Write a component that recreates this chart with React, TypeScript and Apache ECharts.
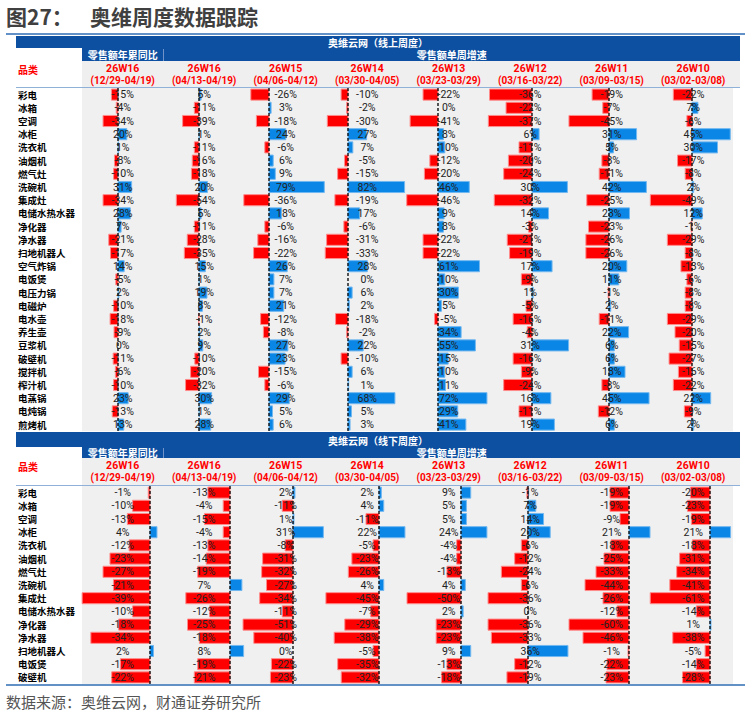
import React, { useEffect, useRef } from 'react';
import * as echarts from 'echarts';

// ---------- data ----------
const weeks = ['26W16', '26W16', '26W15', '26W14', '26W13', '26W12', '26W11', '26W10'];
const dateRanges = ['(12/29-04/19)', '(04/13-04/19)', '(04/06-04/12)', '(03/30-04/05)', '(03/23-03/29)', '(03/16-03/22)', '(03/09-03/15)', '(03/02-03/08)'];

const onlineCategories = ['彩电', '冰箱', '空调', '冰柜', '洗衣机', '油烟机', '燃气灶', '洗碗机', '集成灶', '电储水热水器', '净化器', '净水器', '扫地机器人', '空气炸锅', '电饭煲', '电压力锅', '电磁炉', '电水壶', '养生壶', '豆浆机', '破壁机', '搅拌机', '榨汁机', '电蒸锅', '电炖锅', '煎烤机'];
const onlineYtd = [-15, -4, -34, 20, 1, -8, -10, 31, -34, 28, 7, -21, -17, 14, -5, 2, -10, -18, -9, 0, -11, -6, -10, 23, -13, 13];
const onlineW16 = [5, -11, -39, 1, -11, -16, -18, 20, -54, 5, -11, -28, -35, 15, 1, 19, 8, -1, 2, 9, -10, -20, -32, 30, 1, 28];
const onlineW15 = [-26, 3, -18, 24, -6, 6, 9, 79, -36, 18, -6, -16, -22, 26, 7, 7, 21, -12, -8, 27, 23, -15, -6, 29, 5, 6];
const onlineW14 = [-10, -2, -30, 27, 7, -5, -15, 82, -19, 17, -6, -31, -33, 28, 0, 6, 2, -18, -2, 22, -10, 6, 1, 68, 5, 3];
const onlineW13 = [-22, 0, -41, 8, 10, -12, -20, 46, -46, 9, 8, -22, -22, 61, 10, 30, 5, -5, 34, 55, 15, 10, 11, 72, 29, 41];
const onlineW12 = [-36, -22, -37, 6, -11, -20, -24, 30, -32, 14, -3, -21, -19, 17, -9, 1, -5, -16, -4, 31, -16, -9, -24, 16, -11, 19];
const onlineW11 = [-19, -7, -45, 31, 5, -8, -11, 42, -25, 23, -23, -26, -26, 20, 11, -1, 2, -11, 22, 6, 6, 18, -8, 45, -12, 6];
const onlineW10 = [-22, 7, -6, 45, 30, -17, -8, 2, -49, 12, -1, -29, -8, -13, -6, -8, -8, -29, -20, -15, -27, -16, -22, 22, -9, 2];

const offlineCategories = ['彩电', '冰箱', '空调', '冰柜', '洗衣机', '油烟机', '燃气灶', '洗碗机', '集成灶', '电储水热水器', '净化器', '净水器', '扫地机器人', '电饭煲', '破壁机'];
const offlineYtd = [-1, -10, -13, 4, -12, -23, -27, -21, -39, -10, -18, -34, 2, -17, -22];
const offlineW16 = [-13, -4, -15, -4, -13, -14, -19, 7, -26, -12, -25, -18, 8, -19, -21];
const offlineW15 = [2, -11, 1, 31, -8, -31, -32, -27, -34, -11, -51, -40, 0, -22, -23];
const offlineW14 = [2, 4, -11, 22, -5, -23, -26, 4, -45, -7, -29, -38, -5, -35, -32];
const offlineW13 = [9, 5, 5, 24, -4, -4, -13, 4, -50, 2, -23, -23, 9, -13, -18];
const offlineW12 = [-1, 7, 14, 20, -6, -12, -24, -6, -36, 0, -36, -33, 36, -12, -19];
const offlineW11 = [-19, -19, -9, 21, -18, -25, -33, -44, -26, -12, -60, -46, -1, -22, -23];
const offlineW10 = [-20, -23, -19, 21, -18, -31, -34, -41, -61, -14, 1, -38, -5, -14, -28];

// ---------- layout / style ----------
const CJK = '"Noto Sans CJK SC", "Noto Sans", sans-serif';
const NUM = 'Roboto, "Noto Sans", sans-serif';
const HEADER_BLUE = '#0D4FA0';
const RED = '#FF0000';
const RED_EDGE = '#FF8C8C';
const BLUE = '#0A86E6';
const BLUE_EDGE = '#72B8F0';
const ROW_H = 13.2;
const CELL_X0 = 82;
const CELL_W = 81.5;
const TABLE_RIGHT = 740;
const DATA_RIGHT = 733;

const tables = [
  {
    top: 88,
    cats: onlineCategories,
    cols: [onlineYtd, onlineW16, onlineW15, onlineW14, onlineW13, onlineW12, onlineW11, onlineW10],
    axisX: [118, 199, 269, 348, 438, 532, 609, 692],
    pxPerPct: [0.44, 0.42, 0.7, 0.69, 0.68, 1.18, 0.89, 0.85],
    title: '奥维云网（线上周度）',
    band1: [36, 12],
    band2: [48, 13],
    gray: [61, 27],
  },
  {
    top: 486,
    cats: offlineCategories,
    cols: [offlineYtd, offlineW16, offlineW15, offlineW14, offlineW13, offlineW12, offlineW11, offlineW10],
    axisX: [150, 230, 293, 379, 461, 528, 629, 710],
    pxPerPct: [1.74, 1.7, 0.98, 1.18, 1.08, 1.11, 1.0, 0.98],
    title: '奥维云网（线下周度）',
    band1: [432, 15],
    band2: [447, 11],
    gray: [458, 27],
  },
];

const renderCell = (params: any, api: any) => {
  const v = api.value(0) as number;
  const idx = api.value(1) as number;
  const p0 = api.coord([0, idx]);
  const p1 = api.coord([v, idx]);
  const h = api.size([0, 1])[1] * 0.84;
  const cs = params.coordSys;
  const pos = v >= 0;
  const children: any[] = [];
  if (v !== 0) {
    children.push({
      type: 'rect',
      shape: { x: Math.min(p0[0], p1[0]), y: p0[1] - h / 2, width: Math.abs(p1[0] - p0[0]), height: h },
      style: { fill: pos ? BLUE : RED, stroke: pos ? BLUE_EDGE : RED_EDGE, lineWidth: 1 },
      z2: 1,
    });
  }
  children.push({
    type: 'text',
    x: cs.x + cs.width / 2,
    y: p0[1],
    style: {
      text: v + '%',
      align: 'center',
      verticalAlign: 'middle',
      textAlign: 'center',
      textVerticalAlign: 'middle',
      fontSize: 10.5,
      fontFamily: NUM,
      fill: '#222',
    },
    z2: 20,
  });
  if (params.dataIndex === 0) {
    children.push({
      type: 'line',
      shape: { x1: p0[0], y1: cs.y, x2: p0[0], y2: cs.y + cs.height },
      style: { stroke: '#000', lineWidth: 1.3, lineDash: [3, 2] },
      z2: 10,
    });
  }
  return { type: 'group', children };
};

function txt(x: number, y: number, text: string, size: number, fill: string, align = 'center', weight = 'bold', family = CJK) {
  return {
    type: 'text',
    x,
    y,
    style: {
      text,
      fill,
      fontSize: size,
      fontWeight: weight,
      fontFamily: family,
      align,
      textAlign: align,
      verticalAlign: 'middle',
      textVerticalAlign: 'middle',
    },
  };
}

function buildOption() {
  const grid: any[] = [];
  const xAxis: any[] = [];
  const yAxis: any[] = [];
  const series: any[] = [];
  const graphic: any[] = [];

  // title
  graphic.push(txt(6, 16, '图27：', 21, '#404040', 'left', 'bold'));
  graphic.push(txt(90, 16, '奥维周度数据跟踪', 21, '#404040', 'left', 'bold'));
  graphic.push({ type: 'line', shape: { x1: 6, y1: 34, x2: 745, y2: 34 }, style: { stroke: '#2E6DB4', lineWidth: 1.5 } });

  tables.forEach((t, ti) => {
    const n = t.cats.length;
    const height = n * ROW_H;
    // backgrounds / headers
    graphic.push({ type: 'rect', shape: { x: CELL_X0, y: t.top, width: DATA_RIGHT - CELL_X0, height }, style: { fill: '#F0F0F0' }, z: -10 });
    graphic.push({ type: 'rect', shape: { x: 16, y: t.band1[0], width: TABLE_RIGHT - 16, height: t.band1[1] }, style: { fill: HEADER_BLUE } });
    graphic.push({ type: 'rect', shape: { x: CELL_X0, y: t.band2[0], width: TABLE_RIGHT - CELL_X0, height: t.band2[1] }, style: { fill: HEADER_BLUE } });
    graphic.push({ type: 'line', shape: { x1: CELL_X0 + CELL_W, y1: t.band2[0] + 1, x2: CELL_X0 + CELL_W, y2: t.band2[0] + t.band2[1] }, style: { stroke: '#6F93C8', lineWidth: 1 } });
    graphic.push({ type: 'rect', shape: { x: CELL_X0, y: t.gray[0], width: TABLE_RIGHT - CELL_X0, height: t.gray[1] }, style: { fill: '#EFEFEF' } });
    graphic.push(txt(378, t.band1[0] + t.band1[1] / 2 + 0.5, t.title, 10, '#fff'));
    graphic.push(txt(CELL_X0 + CELL_W / 2, t.band2[0] + t.band2[1] / 2, '零售额年累同比', 10, '#fff'));
    graphic.push(txt((CELL_X0 + CELL_W + TABLE_RIGHT) / 2, t.band2[0] + t.band2[1] / 2, '零售额单周增速', 10, '#fff'));
    graphic.push(txt(18, t.gray[0] + 8, '品类', 10, RED, 'left'));
    for (let c = 0; c < 8; c++) {
      const cx = CELL_X0 + CELL_W * c + CELL_W / 2;
      graphic.push(txt(cx, t.gray[0] + 7, weeks[c], 10.5, RED, 'center', 'bold', NUM));
      graphic.push(txt(cx, t.gray[0] + 19.5, dateRanges[c], 10, RED, 'center', 'bold', NUM));
    }
    graphic.push({ type: 'line', shape: { x1: 16, y1: t.top - 0.5, x2: TABLE_RIGHT, y2: t.top - 0.5 }, style: { stroke: '#8FB0D8', lineWidth: 1 } });

    for (let c = 0; c < 8; c++) {
      const gi = ti * 8 + c;
      const left = CELL_X0 + CELL_W * c;
      const ax = t.axisX[c];
      const ppp = t.pxPerPct[c];
      grid.push({ left, top: t.top, width: CELL_W, height });
      xAxis.push({
        type: 'value',
        gridIndex: gi,
        min: -(ax - left) / ppp,
        max: (left + CELL_W - ax) / ppp,
        show: false,
      });
      yAxis.push({
        type: 'category',
        gridIndex: gi,
        data: t.cats,
        inverse: true,
        axisLine: { show: false },
        axisTick: { show: false },
        splitLine: { show: false },
        axisLabel: c === 0
          ? { show: true, align: 'left', margin: left - 18, fontSize: 9.5, fontWeight: 'bold', fontFamily: CJK, color: '#000' }
          : { show: false },
      });
      series.push({
        type: 'custom',
        xAxisIndex: gi,
        yAxisIndex: gi,
        encode: { x: 0, y: 1 },
        data: t.cols[c].map((v, i) => [v, i]),
        renderItem: renderCell,
      });
    }
  });

  // bottom rule + footer
  graphic.push({ type: 'line', shape: { x1: 6, y1: 685, x2: 745, y2: 685 }, style: { stroke: '#2E6DB4', lineWidth: 1.5 } });
  graphic.push(txt(6, 701, '数据来源：奥维云网，财通证券研究所', 15, '#555', 'left', 'normal'));

  return {
    animation: false,
    backgroundColor: '#fff',
    grid,
    xAxis,
    yAxis,
    series,
    graphic,
  };
}

export default function App() {
  const ref = useRef<HTMLDivElement>(null);
  useEffect(() => {
    if (!ref.current) return;
    const chart = echarts.init(ref.current, undefined, { renderer: 'svg' });
    chart.setOption(buildOption() as any);
    return () => chart.dispose();
  }, []);
  return <div ref={ref} style={{ position: 'fixed', left: 0, top: 0, width: 748, height: 716, background: '#fff' }} />;
}
